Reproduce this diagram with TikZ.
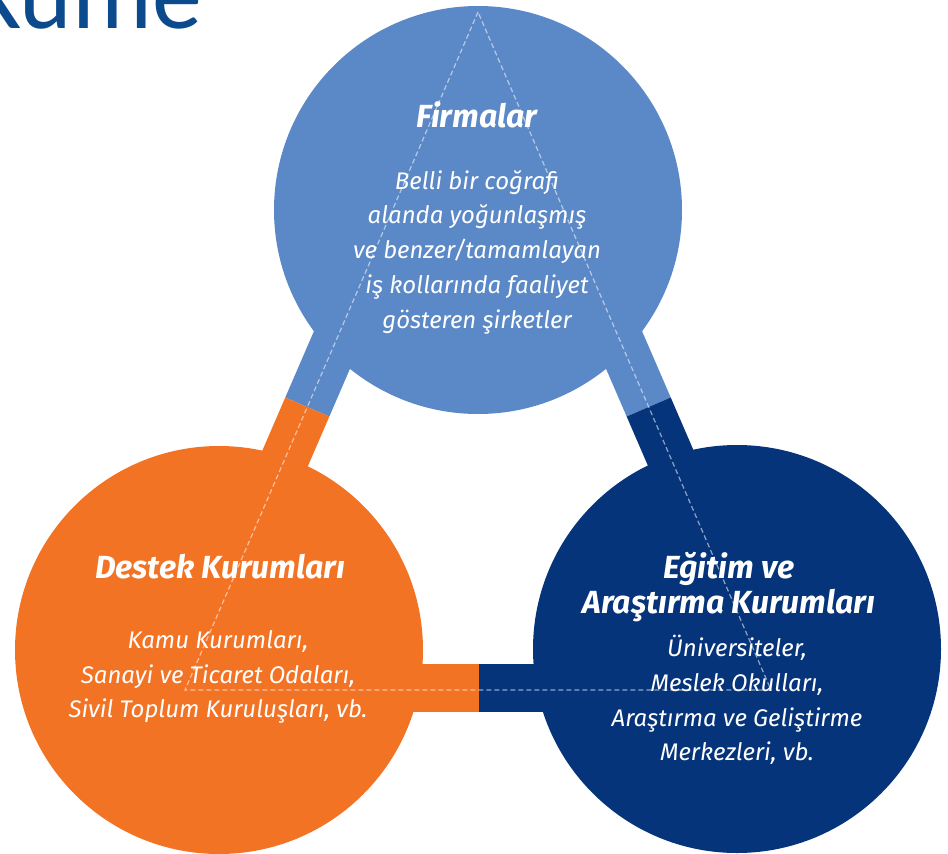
\documentclass[tikz,border=0pt]{standalone}
\usepackage{fontspec}
\newfontfamily\circfont{Fira Sans}
\newfontfamily\kumefont{Carlito}
\definecolor{firmblue}{HTML}{5B88C6}
\definecolor{destekorange}{HTML}{F37325}
\definecolor{egitimnavy}{HTML}{06347A}
\definecolor{kumeblue}{HTML}{0B4A8C}

\begin{document}
\begin{tikzpicture}[x=1pt,y=-1pt,
	main_node/.style={circle,minimum size=408pt,inner sep=0pt},
	head_text/.style={text=white,align=center,inner sep=0pt,font=\circfont\bfseries\itshape\fontsize{32}{35}\selectfont},
	body_text/.style={text=white,align=center,inner sep=0pt,font=\circfont\itshape\fontsize{24}{34.7}\selectfont},
	bar_line/.style={line width=48pt},
	dash_line/.style={draw=white,draw opacity=.55,line width=1.2pt,dash pattern=on 5pt off 3pt}]
	\useasboundingbox (0,0) rectangle (948,854);
	\clip (0,0) rectangle (948,854); %title is cut by the top edge

	\node[anchor=base east,inner sep=0pt,text=kumeblue,font=\kumefont\fontsize{100}{100}\selectfont] (title) at (202,28) {Küme};

	\coordinate (a) at (478,12);
	\coordinate (l) at (185,690);
	\coordinate (r) at (771,690);
	\coordinate (s1) at (307.3,407);
	\coordinate (s2) at (648.7,407);
	\coordinate (s3) at (479,688);
	\coordinate (p1) at (375.5,249.3);
	\coordinate (p2) at (243.6,554.4);
	\coordinate (p3) at (580.5,249.3);
	\coordinate (p4) at (712.4,554.4);
	\coordinate (p5) at (330,688);
	\coordinate (p6) at (630,688);

	\path[bar_line]
	(p1) edge[draw=firmblue] (s1)
	(s1) edge[draw=destekorange] (p2)
	(p3) edge[draw=firmblue] (s2)
	(s2) edge[draw=egitimnavy] (p4)
	(p5) edge[draw=destekorange] (s3)
	(s3) edge[draw=egitimnavy] (p6)
	;

	\node[main_node,fill=firmblue] (1) at (478,210) {};
	\node[main_node,fill=destekorange] (2) at (219,650) {};
	\node[main_node,fill=egitimnavy] (3) at (737,649) {};

	\draw[dash_line] (a) -- (l) -- (r) -- cycle;

	\node[head_text,anchor=base] (1h) at (477,127) {Firmalar};
	\node[body_text] (1b) at (477,252) {Belli bir coğrafi\\alanda yoğunlaşmış\\ve benzer/tamamlayan\\iş kollarında faaliyet\\gösteren şirketler};

	\node[head_text,anchor=base] (2h) at (220,578) {Destek Kurumları};
	\node[body_text] (2b) at (218,677) {Kamu Kurumları,\\Sanayi ve Ticaret Odaları,\\Sivil Toplum Kuruluşları, vb.};

	\node[head_text] (3h) at (729,587) {Eğitim ve\\Araştırma Kurumları};
	\node[body_text] (3b) at (737,700) {Üniversiteler,\\Meslek Okulları,\\Araştırma ve Geliştirme\\Merkezleri, vb.};
\end{tikzpicture}
\end{document}
